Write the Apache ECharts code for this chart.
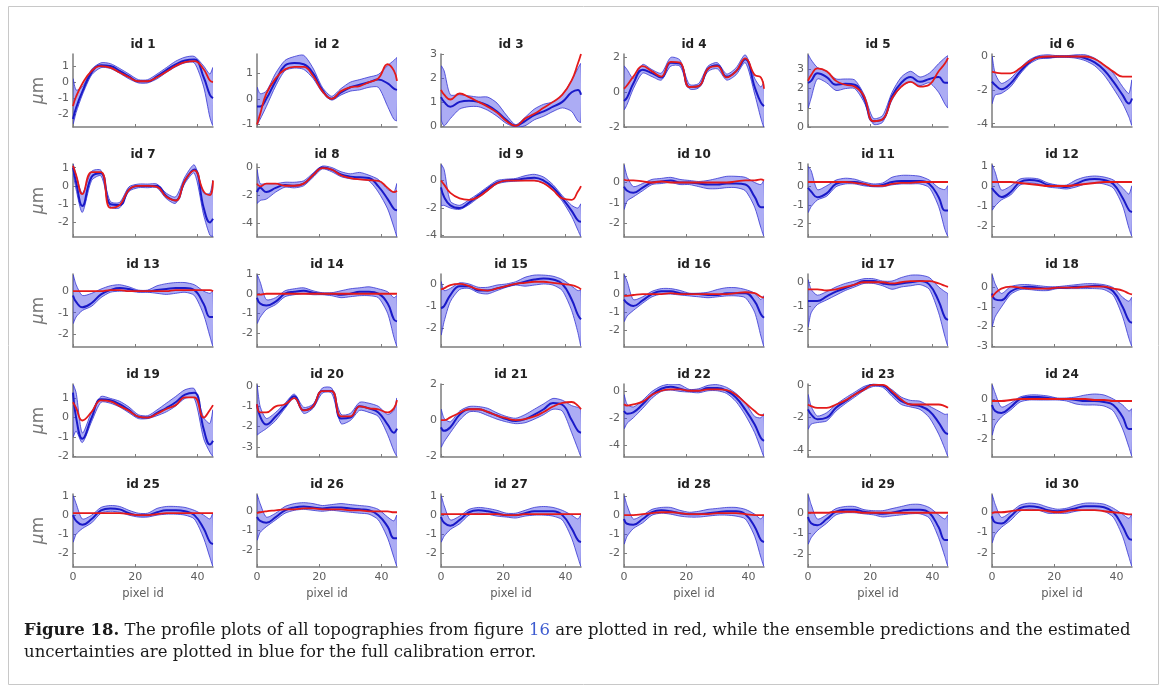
<!DOCTYPE html>
<html>
<head>
<meta charset="utf-8">
<script src="https://cdn.jsdelivr.net/npm/echarts@6/dist/echarts.min.js"></script>
<style>
  html, body { margin: 0; padding: 0; background: #fff; }
  #chart { width: 1167px; height: 693px; }
</style>
</head>
<body>
<div id="chart"></div>
<script>
// sample positions along the profile (pixel id)
const pixelIds = [0, 1, 3, 6, 9, 12, 15, 18, 21, 24, 27, 30, 33, 36, 39, 42, 44, 45];
const xTicks = [0, 20, 40];

// y limits and tick labels per panel (id 1 .. id 30)
const yMin = [-2.8, -1.1, -0.05, -2.0, 0, -4.2, -2.8, -5.0, -4.1, -2.65, -2.7, -2.55, -2.6, -2.7, -2.85,
              -2.9, -2.75, -3.05, -2.05, -3.5, -2.05, -4.9, -4.4, -2.9, -2.7, -2.9, -2.7, -2.7, -2.6, -2.7];
const yMax = [1.75, 1.75, 3.0, 2.2, 3.8, 0.15, 1.2, 0.2, 1.2, 0.9, 1.15, 1.1, 0.8, 1.0, 0.45,
              1.1, 0.35, 0.7, 1.75, 0.1, 2.0, 0.5, 0.05, 0.75, 1.1, 0.9, 1.1, 1.1, 0.9, 0.9];
const yTicks = [
  [-2, -1, 0, 1], [-1, 0, 1], [0, 1, 2, 3], [-2, 0, 2], [0, 1, 2, 3], [-4, -2, 0],
  [-2, -1, 0, 1], [-4, -2, 0], [-4, -2, 0], [-2, -1, 0], [-2, -1, 0, 1], [-2, -1, 0, 1],
  [-2, -1, 0], [-2, -1, 0, 1], [-2, -1, 0], [-2, -1, 0, 1], [-2, -1, 0], [-3, -2, -1, 0],
  [-2, -1, 0, 1], [-3, -2, -1, 0], [-2, 0, 2], [-4, -2, 0], [-4, -2, 0], [-2, -1, 0],
  [-2, -1, 0, 1], [-2, -1, 0], [-2, -1, 0, 1], [-2, -1, 0, 1], [-2, -1, 0], [-2, -1, 0]
];

// red: profile of the topography
const redProfiles = [
  [-1.5,-0.9,-0.1,0.7,1.0,0.9,0.6,0.3,0.05,0.05,0.3,0.65,1.0,1.25,1.3,0.8,0.1,0.0],
  [-1.0,-0.6,0.2,0.8,1.15,1.25,1.25,0.9,0.3,0.0,0.3,0.45,0.5,0.65,0.8,1.35,1.1,0.7],
  [1.5,1.3,1.1,1.35,1.2,1.0,0.8,0.55,0.2,0.0,0.3,0.5,0.75,1.0,1.3,1.9,2.6,3.0],
  [0.2,0.4,0.9,1.5,1.2,0.9,1.75,1.7,0.3,0.35,1.35,1.5,0.85,1.2,1.95,1.0,0.85,0.2],
  [2.4,2.7,3.05,2.9,2.4,2.2,2.1,1.6,0.3,0.4,1.5,2.1,2.35,2.1,2.2,2.9,3.3,3.6],
  [-0.9,-0.95,-1.0,-1.0,-0.7,-0.3,-0.05,0.0,0.0,0.0,0.0,0.0,-0.15,-0.5,-0.9,-1.2,-1.2,-1.2],
  [1.1,0.6,-0.45,0.75,0.75,-1.2,-1.05,-0.2,0.0,0.0,-0.05,-0.6,-0.8,0.3,0.85,-0.3,-0.5,0.3],
  [-1.2,-1.4,-1.2,-1.2,-1.35,-1.35,-1.2,-0.6,-0.1,-0.2,-0.6,-0.8,-0.9,-0.95,-1.0,-1.5,-1.8,-1.7],
  [0.0,-0.3,-0.9,-1.3,-1.4,-1.2,-0.7,-0.2,0.0,0.0,0.0,0.0,-0.2,-0.7,-1.3,-1.4,-0.8,-0.4],
  [0.15,0.1,0.1,0.05,0.0,0.05,0.0,0.0,0.0,0.0,0.0,0.0,0.0,0.05,0.1,0.1,0.15,0.1],
  [0.2,0.2,0.2,0.2,0.2,0.2,0.15,0.1,0.0,0.0,0.1,0.15,0.15,0.2,0.2,0.2,0.2,0.2],
  [0.2,0.2,0.2,0.2,0.15,0.1,0.05,0.0,0.0,0.0,0.05,0.1,0.15,0.2,0.2,0.2,0.2,0.2],
  [0.0,0.0,0.0,0.0,0.0,0.05,0.05,0.0,0.0,0.0,0.0,0.0,0.05,0.05,0.05,0.05,0.05,0.0],
  [-0.05,-0.05,0.0,0.0,0.0,0.0,0.0,0.0,0.0,0.0,0.0,0.0,0.0,0.0,0.0,0.0,0.0,0.0],
  [-0.25,-0.2,-0.05,0.0,-0.1,-0.25,-0.3,-0.2,-0.1,0.0,0.05,0.1,0.1,0.05,0.0,-0.05,-0.15,-0.25],
  [-0.1,-0.1,-0.05,0.0,0.0,0.0,0.05,0.0,0.0,0.0,0.0,0.0,0.0,0.05,0.1,0.05,-0.15,-0.2],
  [-0.3,-0.3,-0.3,-0.35,-0.3,-0.2,-0.1,0.0,0.0,0.0,-0.05,0.0,0.05,0.05,0.05,-0.05,-0.15,-0.2],
  [-0.5,-0.3,-0.05,0.05,0.0,-0.05,-0.05,-0.05,0.0,0.0,0.0,0.05,0.05,0.05,-0.05,-0.15,-0.3,-0.35],
  [0.8,0.5,-0.15,0.3,0.9,0.85,0.6,0.35,0.05,0.0,0.2,0.45,0.65,1.05,1.05,0.0,0.4,0.65],
  [-0.9,-1.3,-1.3,-1.0,-0.9,-0.6,-1.2,-1.0,-0.25,-0.25,-1.5,-1.5,-1.0,-1.1,-1.15,-1.3,-1.1,-0.7],
  [0.0,0.0,0.15,0.4,0.6,0.6,0.45,0.25,0.1,0.0,0.05,0.2,0.45,0.75,0.95,1.0,0.8,0.6],
  [-1.0,-1.1,-1.0,-0.8,-0.3,0.0,0.1,0.1,0.0,0.0,0.1,0.1,0.05,-0.3,-0.9,-1.5,-1.8,-1.8],
  [-1.2,-1.3,-1.4,-1.4,-1.2,-0.95,-0.6,-0.3,0.0,0.0,-0.4,-0.9,-1.2,-1.2,-1.2,-1.2,-1.3,-1.4],
  [-0.1,-0.1,-0.1,-0.05,0.0,0.0,0.0,0.0,0.0,0.0,0.0,0.0,-0.05,-0.05,-0.1,-0.1,-0.1,-0.1],
  [0.1,0.1,0.1,0.1,0.1,0.1,0.1,0.05,0.0,0.0,0.05,0.1,0.1,0.1,0.1,0.1,0.1,0.1],
  [-0.1,-0.05,0.0,0.05,0.1,0.1,0.15,0.15,0.1,0.1,0.1,0.05,0.05,0.0,0.0,0.0,-0.05,-0.05],
  [0.05,0.05,0.05,0.05,0.05,0.05,0.05,0.05,0.0,0.0,0.05,0.05,0.05,0.05,0.05,0.05,0.05,0.05],
  [0.0,0.0,0.0,0.05,0.1,0.15,0.15,0.1,0.05,0.05,0.05,0.1,0.1,0.1,0.05,0.0,0.0,0.0],
  [0.0,0.0,0.0,0.0,0.05,0.05,0.05,0.0,0.0,0.0,0.0,0.0,0.0,0.0,0.0,0.0,0.0,0.0],
  [-0.05,0.0,0.0,0.05,0.1,0.1,0.1,0.05,0.0,0.05,0.1,0.1,0.1,0.05,0.0,-0.05,-0.1,-0.1]
];

// blue: ensemble mean prediction
const blueMeans = [
  [-2.3,-1.6,-0.6,0.6,1.05,1.0,0.7,0.35,0.05,0.05,0.35,0.75,1.1,1.35,1.4,0.3,-0.8,-1.0],
  [-0.3,-0.3,0.0,0.7,1.3,1.4,1.35,1.0,0.35,0.0,0.25,0.45,0.55,0.65,0.75,0.6,0.4,0.35],
  [1.2,1.0,0.8,1.0,1.05,1.0,0.85,0.6,0.25,0.0,0.2,0.45,0.6,0.8,1.0,1.4,1.5,1.3],
  [-0.5,-0.3,0.5,1.3,1.1,0.85,1.7,1.65,0.3,0.35,1.35,1.55,0.9,1.2,1.9,0.3,-0.6,-0.8],
  [2.3,2.4,2.8,2.6,2.2,2.25,2.2,1.5,0.3,0.4,1.6,2.3,2.6,2.35,2.5,2.6,2.3,2.3],
  [-1.5,-1.7,-1.95,-1.6,-0.9,-0.35,-0.05,-0.05,0.0,0.0,0.0,-0.1,-0.35,-0.8,-1.5,-2.3,-2.8,-2.5],
  [1.0,0.2,-1.1,0.5,0.7,-1.0,-1.05,-0.2,0.0,0.0,0.0,-0.55,-0.8,0.3,0.9,-1.2,-2.0,-1.8],
  [-1.8,-1.5,-1.8,-1.5,-1.3,-1.35,-1.2,-0.6,-0.05,-0.2,-0.55,-0.7,-0.75,-0.8,-1.4,-2.3,-3.0,-3.1],
  [-0.5,-1.2,-1.8,-2.0,-1.6,-1.1,-0.6,-0.15,0.0,0.05,0.15,0.2,0.0,-0.5,-1.3,-2.2,-2.9,-3.0],
  [-0.2,-0.4,-0.5,-0.25,0.0,0.05,0.1,0.0,0.0,-0.05,-0.1,-0.1,-0.05,-0.05,-0.1,-0.7,-1.2,-1.2],
  [-0.1,-0.3,-0.6,-0.4,0.1,0.2,0.2,0.1,0.0,0.05,0.2,0.25,0.25,0.25,0.1,-0.6,-1.3,-1.3],
  [-0.1,-0.3,-0.55,-0.3,0.2,0.3,0.25,0.05,0.0,-0.05,0.1,0.3,0.35,0.3,0.1,-0.6,-1.2,-1.3],
  [-0.2,-0.5,-0.75,-0.55,-0.15,0.05,0.15,0.1,0.0,0.0,0.05,0.1,0.15,0.15,0.05,-0.6,-1.2,-1.2],
  [-0.2,-0.5,-0.6,-0.4,0.0,0.1,0.15,0.05,0.0,0.0,-0.05,0.0,0.1,0.1,0.0,-0.5,-1.3,-1.4],
  [-1.1,-1.0,-0.5,-0.1,-0.1,-0.3,-0.3,-0.2,-0.1,0.0,0.1,0.2,0.25,0.2,0.0,-0.7,-1.4,-1.6],
  [-0.3,-0.5,-0.65,-0.35,0.0,0.15,0.15,0.05,0.0,0.0,-0.05,-0.05,0.05,0.05,0.05,-0.4,-1.1,-1.3],
  [-0.8,-0.8,-0.8,-0.6,-0.4,-0.25,-0.1,0.05,0.05,-0.05,-0.1,-0.05,0.0,0.05,-0.1,-0.8,-1.5,-1.6],
  [-0.3,-0.6,-0.65,-0.2,0.0,0.05,0.0,-0.05,0.0,0.0,0.05,0.05,0.1,0.05,-0.2,-1.0,-1.7,-1.8],
  [1.3,0.0,-1.1,0.0,0.95,0.9,0.7,0.4,0.05,0.0,0.25,0.5,0.8,1.2,1.3,-0.6,-1.4,-1.2],
  [-0.9,-1.5,-1.9,-1.5,-1.0,-0.5,-1.2,-1.0,-0.25,-0.25,-1.6,-1.55,-1.0,-1.1,-1.3,-1.9,-2.3,-2.1],
  [-0.4,-0.6,-0.4,0.3,0.6,0.6,0.45,0.25,0.05,-0.05,0.05,0.3,0.6,0.95,0.85,0.0,-0.6,-0.7],
  [-1.5,-1.7,-1.6,-1.0,-0.3,0.15,0.3,0.15,0.0,0.0,0.2,0.2,0.0,-0.5,-1.4,-2.5,-3.5,-3.7],
  [-1.5,-1.8,-2.1,-2.0,-1.4,-1.0,-0.6,-0.25,0.0,-0.05,-0.5,-1.0,-1.2,-1.3,-1.6,-2.3,-2.9,-3.0],
  [-0.3,-0.6,-0.7,-0.4,0.0,0.1,0.1,0.05,0.0,0.0,-0.05,-0.1,-0.1,-0.15,-0.3,-0.9,-1.5,-1.5],
  [0.0,-0.3,-0.5,-0.2,0.25,0.35,0.3,0.1,0.0,0.0,0.15,0.25,0.25,0.2,0.0,-0.7,-1.4,-1.5],
  [-0.3,-0.5,-0.6,-0.3,0.05,0.2,0.25,0.2,0.15,0.2,0.2,0.15,0.1,0.05,-0.2,-0.8,-1.4,-1.4],
  [-0.1,-0.4,-0.55,-0.25,0.15,0.25,0.2,0.1,0.0,0.0,0.1,0.2,0.2,0.2,0.0,-0.7,-1.3,-1.4],
  [-0.2,-0.45,-0.5,-0.2,0.15,0.25,0.2,0.1,0.05,0.05,0.1,0.15,0.2,0.2,0.05,-0.6,-1.3,-1.4],
  [-0.2,-0.5,-0.6,-0.3,0.05,0.15,0.15,0.05,0.0,-0.05,0.0,0.1,0.15,0.15,0.0,-0.7,-1.3,-1.3],
  [-0.2,-0.5,-0.55,-0.2,0.2,0.3,0.25,0.1,0.05,0.1,0.2,0.3,0.3,0.25,0.0,-0.7,-1.3,-1.35]
];

// uncertainty band, lower edge
const bandLow = [
  [-2.6,-1.9,-0.8,0.45,0.9,0.85,0.55,0.2,-0.05,-0.05,0.2,0.6,0.95,1.2,1.2,-0.3,-2.2,-2.7],
  [-1.0,-0.8,-0.3,0.5,1.1,1.2,1.15,0.8,0.25,-0.05,0.15,0.3,0.35,0.45,0.45,-0.3,-0.8,-0.85],
  [0.3,0.0,0.3,0.7,0.8,0.8,0.65,0.4,0.1,-0.05,0.0,0.25,0.4,0.6,0.75,0.6,0.2,0.15],
  [-1.0,-0.7,0.2,1.1,0.9,0.7,1.5,1.5,0.2,0.25,1.2,1.35,0.7,1.0,1.7,-0.1,-1.5,-2.0],
  [1.0,1.5,2.5,2.3,1.9,2.0,2.0,1.3,0.15,0.25,1.4,2.1,2.35,2.15,2.3,1.8,1.2,1.0],
  [-2.8,-2.3,-2.2,-1.8,-1.05,-0.45,-0.15,-0.1,-0.05,-0.05,-0.1,-0.25,-0.55,-1.1,-1.9,-2.8,-3.6,-4.1],
  [0.8,-0.2,-1.45,0.3,0.55,-1.15,-1.2,-0.3,-0.1,-0.1,-0.1,-0.7,-0.95,0.15,0.7,-1.6,-2.7,-2.75],
  [-2.6,-2.4,-2.3,-1.8,-1.45,-1.5,-1.35,-0.75,-0.15,-0.35,-0.7,-0.85,-0.9,-1.0,-1.8,-3.0,-4.3,-4.95],
  [-1.8,-1.8,-2.0,-2.1,-1.75,-1.25,-0.75,-0.25,-0.1,-0.05,0.0,0.0,-0.2,-0.7,-1.5,-2.6,-3.6,-4.05],
  [-1.3,-0.9,-0.7,-0.4,-0.1,-0.05,0.0,-0.1,-0.1,-0.2,-0.3,-0.3,-0.25,-0.25,-0.4,-1.2,-2.2,-2.6],
  [-1.4,-1.1,-0.75,-0.55,-0.05,0.1,0.1,0.0,-0.05,-0.05,0.05,0.1,0.1,0.1,-0.1,-1.1,-2.3,-2.65],
  [-1.2,-1.0,-0.7,-0.45,0.05,0.15,0.1,-0.05,-0.1,-0.15,-0.05,0.1,0.15,0.1,-0.1,-1.0,-2.1,-2.5],
  [-1.5,-1.2,-0.9,-0.7,-0.3,-0.05,0.0,0.0,-0.05,-0.05,-0.1,-0.15,-0.1,-0.05,-0.2,-1.1,-2.1,-2.55],
  [-1.5,-1.2,-0.8,-0.55,-0.15,-0.05,0.0,-0.05,-0.05,-0.1,-0.2,-0.15,-0.1,-0.1,-0.2,-1.0,-2.2,-2.65],
  [-2.3,-1.7,-0.8,-0.25,-0.2,-0.4,-0.45,-0.3,-0.15,-0.05,-0.1,-0.05,0.0,-0.05,-0.3,-1.2,-2.2,-2.8],
  [-1.5,-1.2,-0.9,-0.5,-0.15,0.0,0.0,-0.05,-0.1,-0.15,-0.2,-0.15,-0.1,-0.1,-0.2,-1.0,-2.3,-2.85],
  [-1.9,-1.3,-0.95,-0.75,-0.55,-0.35,-0.2,-0.05,-0.05,-0.15,-0.3,-0.2,-0.15,-0.1,-0.3,-1.3,-2.3,-2.7],
  [-2.0,-1.5,-1.0,-0.35,-0.1,-0.1,-0.15,-0.15,-0.05,-0.05,-0.05,-0.05,-0.05,-0.1,-0.4,-1.5,-2.6,-3.0],
  [-1.0,-0.7,-1.3,-0.2,0.8,0.75,0.55,0.25,-0.05,-0.05,0.1,0.3,0.6,1.0,1.0,-1.1,-1.8,-2.0],
  [-2.4,-2.3,-2.1,-1.7,-1.1,-0.6,-1.35,-1.1,-0.35,-0.35,-1.85,-1.7,-1.2,-1.3,-1.5,-2.4,-3.2,-3.45],
  [-1.5,-1.2,-0.7,0.0,0.45,0.45,0.25,0.05,-0.1,-0.2,-0.15,0.05,0.3,0.6,0.5,-0.7,-1.6,-2.0],
  [-2.8,-2.4,-2.0,-1.3,-0.55,-0.05,0.05,-0.05,-0.1,-0.15,0.0,0.0,-0.2,-0.8,-1.8,-3.1,-4.3,-4.85],
  [-2.7,-2.4,-2.3,-2.2,-1.6,-1.15,-0.75,-0.35,-0.1,-0.15,-0.7,-1.2,-1.35,-1.5,-2.0,-3.0,-3.9,-4.35],
  [-1.8,-1.3,-0.9,-0.55,-0.15,-0.05,-0.05,-0.05,-0.05,-0.1,-0.25,-0.3,-0.3,-0.35,-0.6,-1.5,-2.4,-2.85],
  [-1.4,-1.0,-0.7,-0.4,0.1,0.2,0.15,0.0,-0.1,-0.1,0.0,0.05,0.05,0.0,-0.2,-1.2,-2.2,-2.65],
  [-1.5,-1.1,-0.8,-0.45,-0.1,0.05,0.1,0.05,0.0,0.05,0.0,-0.05,-0.1,-0.15,-0.45,-1.4,-2.4,-2.85],
  [-1.4,-1.1,-0.75,-0.45,0.0,0.1,0.05,-0.05,-0.1,-0.15,-0.05,0.0,0.0,-0.05,-0.25,-1.2,-2.2,-2.65],
  [-1.5,-1.1,-0.7,-0.4,0.0,0.1,0.05,-0.05,-0.1,-0.1,-0.05,0.0,0.0,-0.05,-0.2,-1.1,-2.2,-2.65],
  [-1.5,-1.2,-0.85,-0.5,-0.1,0.0,0.0,-0.05,-0.1,-0.2,-0.15,-0.1,-0.05,-0.05,-0.25,-1.2,-2.1,-2.55],
  [-1.5,-1.1,-0.75,-0.4,0.05,0.15,0.1,-0.05,-0.05,-0.05,0.05,0.1,0.1,0.05,-0.25,-1.2,-2.2,-2.65]
];

// uncertainty band, upper edge
const bandHigh = [
  [0.2,-0.5,-0.3,0.8,1.2,1.15,0.85,0.5,0.15,0.15,0.5,0.9,1.3,1.55,1.6,1.0,0.5,0.9],
  [0.45,0.2,0.3,1.0,1.5,1.65,1.7,1.2,0.45,0.1,0.4,0.65,0.75,0.85,0.95,1.3,1.5,1.6],
  [2.5,2.3,1.3,1.3,1.25,1.2,1.2,0.95,0.45,0.05,0.35,0.7,0.9,1.0,1.3,1.9,2.4,2.6],
  [1.5,1.3,0.8,1.6,1.3,1.1,2.0,1.85,0.45,0.5,1.5,1.7,1.05,1.4,2.15,0.8,0.3,0.6],
  [3.75,3.5,3.1,2.9,2.5,2.5,2.45,1.7,0.45,0.6,1.8,2.6,2.9,2.6,2.8,3.3,3.6,3.7],
  [0.0,-1.0,-1.6,-1.3,-0.7,-0.2,0.05,0.1,0.05,0.05,0.1,0.1,-0.1,-0.5,-1.0,-1.8,-2.2,-1.4],
  [1.2,0.6,-0.4,0.8,0.85,-0.85,-0.9,-0.05,0.1,0.1,0.1,-0.4,-0.6,0.5,1.15,-0.4,-0.4,0.3],
  [-0.2,-1.2,-1.2,-1.2,-1.1,-1.1,-1.0,-0.45,0.05,-0.05,-0.35,-0.5,-0.4,-0.6,-0.9,-1.6,-1.8,-1.2],
  [1.15,0.8,-1.5,-1.8,-1.4,-0.95,-0.45,0.0,0.1,0.15,0.35,0.45,0.25,-0.3,-1.1,-1.8,-2.0,-1.7],
  [0.85,0.3,-0.2,-0.05,0.15,0.2,0.25,0.15,0.1,0.05,0.1,0.2,0.3,0.3,0.25,0.0,-0.1,0.1],
  [1.0,0.8,-0.2,0.0,0.3,0.4,0.35,0.2,0.1,0.15,0.45,0.55,0.55,0.5,0.3,-0.1,-0.2,0.0],
  [1.05,0.7,-0.2,0.0,0.35,0.4,0.35,0.15,0.05,0.05,0.3,0.45,0.5,0.45,0.3,-0.1,-0.4,0.0],
  [0.75,0.3,-0.2,-0.1,0.1,0.25,0.3,0.2,0.05,0.05,0.25,0.35,0.4,0.4,0.3,0.0,-0.1,0.0],
  [0.95,0.6,-0.3,-0.2,0.15,0.25,0.3,0.15,0.05,0.05,0.15,0.25,0.3,0.35,0.25,0.1,-0.2,-0.1],
  [0.1,-0.3,-0.2,0.05,0.0,-0.15,-0.15,-0.05,0.0,0.1,0.3,0.4,0.4,0.35,0.2,-0.1,-0.3,-0.3],
  [1.05,0.7,-0.3,-0.15,0.15,0.3,0.3,0.2,0.05,0.05,0.1,0.25,0.35,0.35,0.25,0.05,-0.3,-0.1],
  [0.1,-0.3,-0.55,-0.4,-0.2,-0.05,0.05,0.15,0.15,0.05,0.05,0.2,0.3,0.3,0.2,-0.2,-0.4,-0.5],
  [0.65,0.2,-0.3,0.05,0.15,0.15,0.1,0.05,0.05,0.1,0.15,0.2,0.2,0.15,0.0,-0.5,-0.7,-0.5],
  [1.7,1.3,-0.8,0.3,1.1,1.0,0.85,0.55,0.15,0.1,0.4,0.75,1.1,1.45,1.5,0.0,-0.3,0.4],
  [0.05,-1.0,-1.6,-1.3,-0.85,-0.4,-1.05,-0.9,-0.1,-0.1,-1.4,-1.35,-0.8,-0.85,-1.0,-1.4,-1.2,-0.6],
  [0.6,0.1,-0.1,0.5,0.75,0.75,0.65,0.4,0.2,0.1,0.3,0.6,0.9,1.2,1.1,0.8,0.7,0.6],
  [-0.3,-1.0,-1.2,-0.7,-0.05,0.35,0.5,0.45,0.1,0.15,0.4,0.45,0.25,-0.2,-0.9,-1.9,-2.0,-1.7],
  [-0.6,-1.3,-1.9,-1.7,-1.2,-0.8,-0.45,-0.1,0.05,0.0,-0.3,-0.75,-0.95,-1.0,-1.3,-1.6,-1.8,-1.8],
  [0.7,0.3,-0.4,-0.2,0.1,0.2,0.2,0.15,0.05,0.05,0.1,0.2,0.25,0.2,0.0,-0.3,-0.6,-0.5],
  [1.0,0.6,-0.2,0.0,0.4,0.5,0.45,0.25,0.1,0.1,0.35,0.45,0.45,0.4,0.25,0.0,-0.2,0.1],
  [0.85,0.4,-0.3,-0.1,0.25,0.4,0.45,0.4,0.3,0.35,0.4,0.35,0.3,0.25,0.1,-0.3,-0.5,-0.2],
  [1.0,0.5,-0.25,-0.05,0.3,0.4,0.35,0.25,0.1,0.1,0.25,0.4,0.45,0.4,0.25,0.0,-0.2,0.0],
  [1.0,0.5,-0.2,0.0,0.3,0.4,0.4,0.25,0.15,0.2,0.3,0.35,0.4,0.4,0.3,0.05,-0.2,0.0],
  [0.85,0.4,-0.3,-0.1,0.2,0.3,0.3,0.15,0.1,0.1,0.2,0.3,0.4,0.4,0.25,-0.1,-0.3,-0.1],
  [0.85,0.4,-0.25,0.0,0.35,0.45,0.4,0.25,0.15,0.2,0.35,0.45,0.45,0.4,0.2,-0.1,-0.3,-0.1]
];

const chart = echarts.init(document.getElementById('chart'));

const colLeft = [73, 257, 441, 624, 808, 992];
const rowTop = [54, 164, 274, 384, 494];
const plotW = 140, plotH = 73;
const axisGray = '#7d7d7d';
const labelGray = '#5e5e5e';
const font = 'DejaVu Sans';

const grids = [], xAxes = [], yAxes = [], series = [], texts = [];

// filled band between the two edges, drawn through the panel's axes
function bandRenderer(idx) {
  return function (params, api) {
    if (params.dataIndex !== 0) return null;
    const upper = pixelIds.map((x, k) => api.coord([x, bandHigh[idx][k]]));
    const lower = pixelIds.map((x, k) => api.coord([x, bandLow[idx][k]])).reverse();
    return {
      type: 'polygon',
      shape: { points: upper.concat(lower), smooth: 0.25 },
      style: { fill: 'rgba(75, 75, 232, 0.46)', stroke: '#3535d2', lineWidth: 0.8 }
    };
  };
}

for (let i = 0; i < 30; i++) {
  const r = Math.floor(i / 6), c = i % 6;
  grids.push({ left: colLeft[c], top: rowTop[r], width: plotW, height: plotH });

  xAxes.push({
    gridIndex: i, type: 'value', min: 0, max: 45,
    axisLine: { onZero: false, lineStyle: { color: axisGray, width: 1.5 } },
    axisTick: { show: true, inside: true, length: 3, customValues: xTicks, lineStyle: { color: axisGray } },
    axisLabel: { show: r === 4, customValues: xTicks, color: labelGray, fontSize: 11, fontFamily: font, margin: 5 },
    splitLine: { show: false },
    name: r === 4 ? 'pixel id' : '',
    nameLocation: 'middle', nameGap: 21,
    nameTextStyle: { color: labelGray, fontSize: 11.5, fontFamily: font }
  });

  yAxes.push({
    gridIndex: i, type: 'value', min: yMin[i], max: yMax[i],
    axisLine: { show: true, onZero: false, lineStyle: { color: axisGray, width: 1.5 } },
    axisTick: { show: true, inside: true, length: 3, customValues: yTicks[i], lineStyle: { color: axisGray } },
    axisLabel: { customValues: yTicks[i], color: labelGray, fontSize: 11, fontFamily: font, margin: 4 },
    splitLine: { show: false },
    name: c === 0 ? '{mu|μ}m' : '',
    nameLocation: 'middle', nameRotate: 90, nameGap: 26,
    nameTextStyle: {
      color: '#777', fontSize: 17, fontFamily: font,
      rich: { mu: { fontStyle: 'italic', fontSize: 17, color: '#777', fontFamily: font } }
    }
  });

  const common = { xAxisIndex: i, yAxisIndex: i, silent: true };

  series.push(Object.assign({}, common, {
    type: 'custom', clip: true, data: [[0, 0]], renderItem: bandRenderer(i)
  }));
  series.push(Object.assign({}, common, {
    type: 'line', symbol: 'none', smooth: 0.45,
    data: pixelIds.map((x, k) => [x, blueMeans[i][k]]),
    lineStyle: { color: '#1a1ac8', width: 2 }
  }));
  series.push(Object.assign({}, common, {
    type: 'line', symbol: 'none', smooth: 0.45,
    data: pixelIds.map((x, k) => [x, redProfiles[i][k]]),
    lineStyle: { color: '#e41a1a', width: 1.8 }
  }));

  texts.push({
    type: 'text', x: colLeft[c] + plotW / 2, y: rowTop[r] - 9,
    style: {
      text: 'id ' + (i + 1), fill: '#222', font: 'bold 12px "DejaVu Sans"',
      align: 'center', verticalAlign: 'middle', textAlign: 'center', textVerticalAlign: 'middle'
    }
  });
}

// outer frame and caption
texts.push({
  type: 'rect', shape: { x: 8.5, y: 6.5, width: 1150, height: 678 },
  style: { fill: 'none', stroke: '#c8c8c8', lineWidth: 1 }, z: -1
});
texts.push({
  type: 'text', x: 24, y: 620,
  style: {
    text: '{b|Figure 18.} The profile plots of all topographies from figure {l|16} are plotted in red, while the ensemble predictions and the estimated\nuncertainties are plotted in blue for the full calibration error.',
    fill: '#1a1a1a', fontSize: 16.5, fontFamily: 'DejaVu Serif', lineHeight: 22,
    rich: {
      b: { fontWeight: 'bold', fontSize: 16.5, fontFamily: 'DejaVu Serif', fill: '#1a1a1a', lineHeight: 22 },
      l: { fill: '#3d5bd0', fontSize: 16.5, fontFamily: 'DejaVu Serif', lineHeight: 22 }
    }
  }
});

chart.setOption({
  animation: false,
  backgroundColor: '#fff',
  grid: grids,
  xAxis: xAxes,
  yAxis: yAxes,
  series: series,
  graphic: { elements: texts }
});
</script>
</body>
</html>
